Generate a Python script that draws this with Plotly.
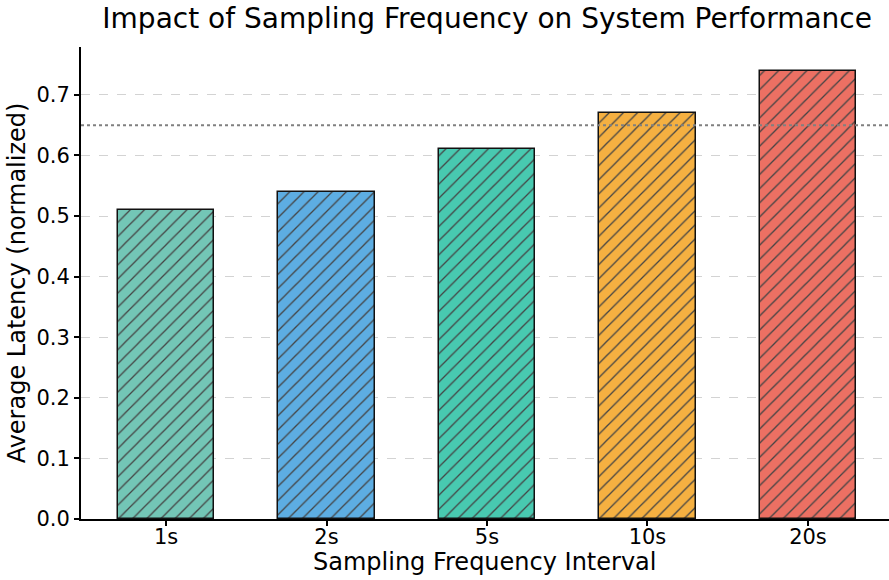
import plotly.graph_objects as go

# Average latency per sampling interval
intervals = ["1s", "2s", "5s", "10s", "20s"]
latency = [0.51, 0.54, 0.61, 0.67, 0.74]
bar_colors = ["#73C6B6", "#5DADE2", "#48C9B0", "#F5B041", "#EC7063"]
threshold = 0.65
y_ticks = [0.0, 0.1, 0.2, 0.3, 0.4, 0.5, 0.6, 0.7]

FONT = "DejaVu Sans"

fig = go.Figure()
fig.add_trace(go.Bar(
    x=list(range(len(intervals))),
    y=latency,
    width=0.6,
    marker=dict(
        color=bar_colors,
        line=dict(color="#111111", width=1.5),
        pattern=dict(shape="/", fgcolor="#000000", fgopacity=1, size=10,
                     solidity=0.13, fillmode="overlay"),
    ),
    showlegend=False,
    hoverinfo="x+y",
))

# Reference threshold line across the plot
fig.add_shape(
    type="line", xref="paper", x0=0, x1=1, yref="y", y0=threshold, y1=threshold,
    line=dict(color="#808080", width=2, dash="dot"), layer="above",
)

# x-axis title placed as an annotation beneath the tick labels
fig.add_annotation(
    text="Sampling Frequency Interval", xref="paper", yref="paper",
    x=0.5, y=0, yshift=-43, xanchor="center", yanchor="middle",
    showarrow=False, font=dict(family=FONT, size=24, color="black"),
)

fig.update_layout(
    width=889, height=580,
    margin=dict(l=81, r=0, t=47, b=61),
    plot_bgcolor="white", paper_bgcolor="white",
    font=dict(family=FONT, size=20, color="black"),
    title=dict(
        text="Impact of Sampling Frequency on System Performance",
        font=dict(family=FONT, size=28, color="black"),
        x=0.548, xanchor="center", y=0.968, yanchor="middle",
    ),
    bargap=0,
)

fig.update_xaxes(
    range=[-0.53, 4.505],
    tickmode="array", tickvals=list(range(len(intervals))), ticktext=intervals,
    ticks="outside", ticklen=5, tickwidth=1.5, tickcolor="black",
    ticklabelstandoff=-7,
    showline=True, linecolor="black", linewidth=2,
    showgrid=False, zeroline=False,
    tickfont=dict(family=FONT, size=21),
)

fig.update_yaxes(
    range=[0, 0.779],
    tickmode="array", tickvals=y_ticks, ticktext=[f"{v:.1f}" for v in y_ticks],
    ticks="outside", ticklen=5, tickwidth=1.5, tickcolor="black",
    showline=True, linecolor="black", linewidth=2,
    showgrid=True, gridcolor="#d3d3d3", griddash="dash", gridwidth=1,
    zeroline=False,
    tickfont=dict(family=FONT, size=21),
    title=dict(text="Average Latency (normalized)", font=dict(family=FONT, size=24), standoff=4),
)

fig.write_html("out.html")
